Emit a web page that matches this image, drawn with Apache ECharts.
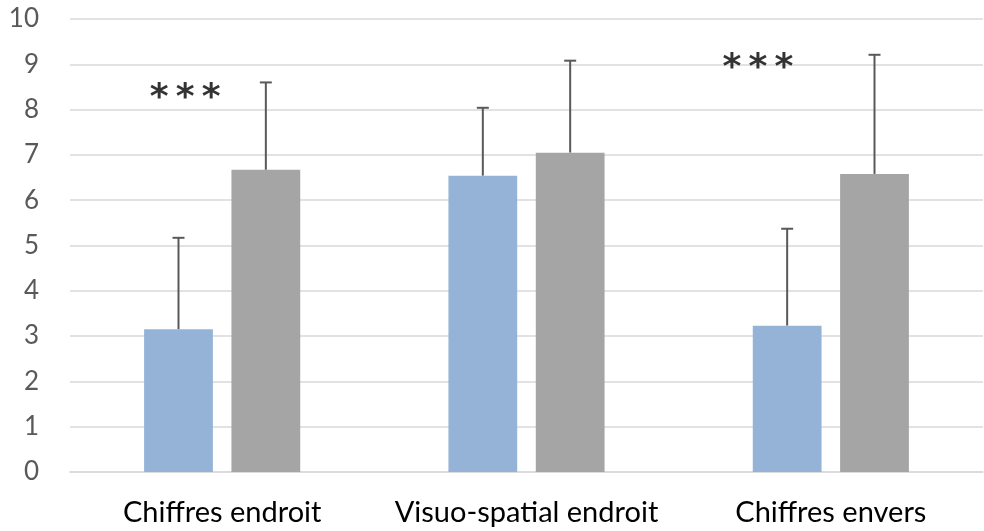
<!DOCTYPE html>
<html><head><meta charset="utf-8">
<script src="https://cdn.jsdelivr.net/npm/echarts@6/dist/echarts.min.js"></script>
<style>html,body{margin:0;padding:0;background:#fff}#c{width:984px;height:531px}</style>
</head><body><div id="c"></div>
<script>
var categories = ['Chiffres endroit', 'Visuo-spatial endroit', 'Chiffres envers'];
var seriesA = [3.15, 6.54, 3.23];
var seriesB = [6.67, 7.05, 6.58];
var errorTopA = [5.17, 8.04, 5.37];
var errorTopB = [8.60, 9.08, 9.21];
var yTicks = [0, 1, 2, 3, 4, 5, 6, 7, 8, 9, 10];
var stars = [[0, 8.43, '*\u2009*\u2009*'], [2, 9.1, '*\u2009*\u2009*']];

var BW = 0.226, GAP = 0.27;
var FONT = 'Lato, "Open Sans", sans-serif';

function errItem(tops, sign) {
  return function (params, api) {
    var i = api.value(0);
    var base = api.coord([i, api.value(1)]);
    var top = api.coord([i, api.value(2)]);
    var band = api.size([1, 0])[0];
    var off = sign * (BW + BW * GAP) / 2 * band;
    var x = base[0] + off;
    var cap = 6;
    var st = { stroke: '#595959', lineWidth: 2 };
    return { type: 'group', children: [
      { type: 'line', shape: { x1: x, y1: base[1], x2: x, y2: top[1] }, style: st },
      { type: 'line', shape: { x1: x - cap, y1: top[1], x2: x + cap, y2: top[1] }, style: st }
    ]};
  };
}

var chart = echarts.init(document.getElementById('c'));
chart.setOption({
  animation: false,
  grid: { left: 70, right: 1, top: 19, bottom: 59 },
  xAxis: {
    type: 'category', data: categories,
    axisLine: { show: true, lineStyle: { color: '#d9d9d9', width: 1.5 } },
    axisTick: { show: false },
    axisLabel: { color: '#000', fontSize: 29, fontFamily: FONT, margin: 26, interval: 0, hideOverlap: false }
  },
  yAxis: {
    type: 'value', min: 0, max: 10, interval: 1,
    axisLine: { show: false }, axisTick: { show: false },
    splitLine: { lineStyle: { color: '#d9d9d9', width: 1.5 } },
    axisLabel: { color: '#595959', fontSize: 26, fontFamily: FONT, margin: 31,
      formatter: function (v) { return yTicks.indexOf(v) >= 0 ? String(v) : ''; } }
  },
  series: [
    { type: 'bar', data: seriesA, barWidth: (BW * 100) + '%', barGap: (GAP * 100) + '%',
      itemStyle: { color: '#95B3D7' }, z: 2 },
    { type: 'bar', data: seriesB, barWidth: (BW * 100) + '%', barGap: (GAP * 100) + '%',
      itemStyle: { color: '#A5A5A5' }, z: 2 },
    { type: 'custom', renderItem: errItem(errorTopA, -1), z: 1,
      data: categories.map(function (c, i) { return [i, seriesA[i], errorTopA[i]]; }) },
    { type: 'custom', renderItem: errItem(errorTopB, 1), z: 1,
      data: categories.map(function (c, i) { return [i, seriesB[i], errorTopB[i]]; }) },
    { type: 'scatter', symbolSize: 0, z: 5,
      data: stars.map(function (s) { return { value: [s[0], s[1]], name: s[2] }; }),
      label: { show: true, position: 'inside', formatter: function (p) { return p.name; },
        color: '#000', fontSize: 36, fontFamily: 'DejaVu Sans', fontWeight: 'bold' },
      labelLayout: function (p) {
        var offs = [-37, -73];
        return { dx: offs[p.dataIndex], dy: 9 };
      }
    }
  ]
});
</script></body></html>
